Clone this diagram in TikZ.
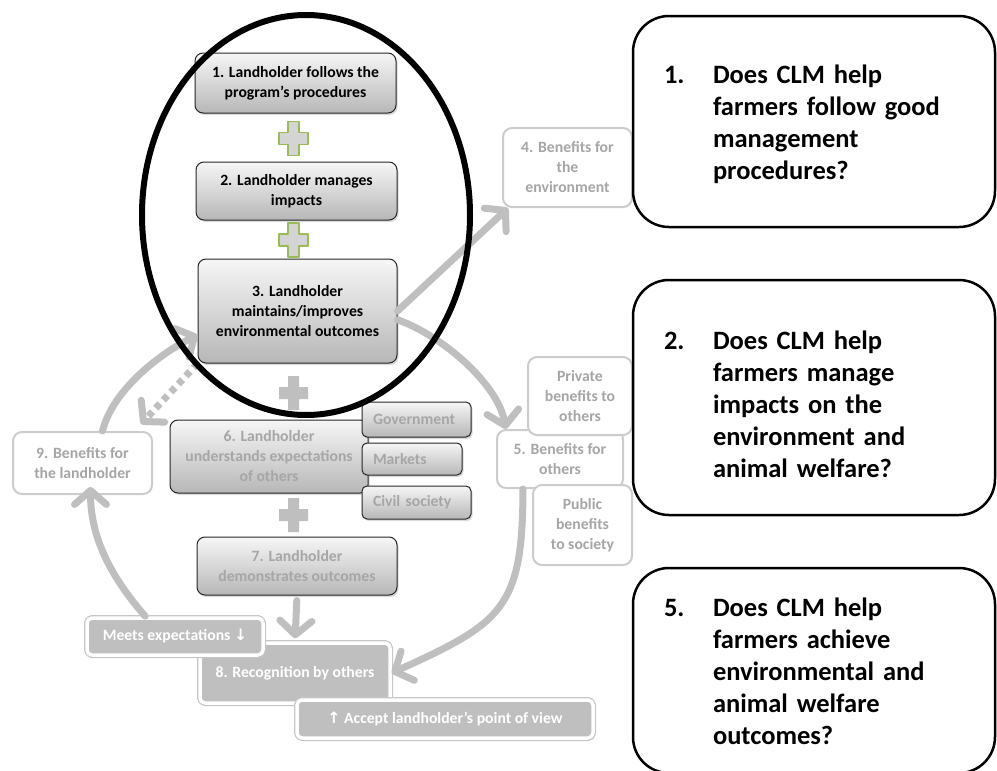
\documentclass[tikz,border=0pt]{standalone}
\usepackage{fontspec}
\setmainfont{Carlito}
\newfontfamily\arrowfont{DejaVu Sans}
\usetikzlibrary{arrows.meta,shadows}

\definecolor{arrowgray}{RGB}{191,191,191}
\definecolor{fadetext}{RGB}{166,166,166}
\definecolor{lightline}{RGB}{204,204,204}
\definecolor{boxtop}{RGB}{246,246,246}
\definecolor{boxbottom}{RGB}{183,183,183}
\definecolor{plusgreen}{RGB}{155,187,89}
\definecolor{plusfill}{RGB}{212,212,212}

\begin{document}
\begin{tikzpicture}[
	x=1pt, y=-1pt,
	line join=round,
	line cap=round,
	font=\fontsize{15.7}{20}\selectfont\bfseries,
	stepbox/.style={draw=black!85, line width=1pt, rounded corners=8pt,
		top color=boxtop, bottom color=boxbottom, align=center, inner sep=0pt,
		drop shadow={shadow xshift=1.5pt, shadow yshift=-2pt, opacity=0.3}},
	fadebox/.style={stepbox, text=fadetext},
	actorbox/.style={fadebox, rounded corners=5pt, align=left},
	benefitbox/.style={draw=lightline, line width=2pt, fill=white, rounded corners=9pt,
		text=fadetext, align=center, inner sep=0pt},
	recogbox/.style={draw=white, line width=3.5pt, fill=arrowgray, rounded corners=5pt,
		text=white, inner sep=0pt,
		preaction={draw=black!22, line width=6pt},
		drop shadow={shadow xshift=1pt, shadow yshift=-2pt, opacity=0.25}},
	questionbox/.style={draw=black, line width=2.5pt, rounded corners=36pt,
		minimum width=362pt, text width=300pt, align=left, inner sep=0pt,
		font=\fontsize{26.5}{32}\selectfont\bfseries},
	flowarrow/.style={draw=arrowgray, line width=7pt,
		-{Straight Barb[round, length=14pt, width=32pt]}},
	greenplus/.style={draw=plusgreen, line width=1.2pt, fill=plusfill},
	grayplus/.style={fill=arrowgray, draw=none}
	]
	
	\useasboundingbox (0,0) rectangle (997,771);
	
	% Các bước
	\node[stepbox, minimum width=201pt, minimum height=60pt] (s1) at (295.5,83)
		{1. Landholder follows the\\program’s procedures};
	\node[stepbox, minimum width=201pt, minimum height=58pt] (s2) at (296.5,191)
		{2. Landholder manages\\impacts};
	\node[stepbox, minimum width=199pt, minimum height=104pt] (s3) at (297.5,311)
		{3. Landholder\\maintains/improves\\environmental outcomes};
	\node[fadebox, minimum width=198pt, minimum height=73pt] (s6) at (269,456.5)
		{6. Landholder\\understands expectations\\of others};
	\node[fadebox, minimum width=200pt, minimum height=58pt] (s7) at (297,566)
		{7. Landholder\\demonstrates outcomes};
	
	% Các bên liên quan
	\foreach \n/\x/\y/\w/\h/\t in {
		gov/416.5/419.5/109/35/Government,
		mkt/412/459/100/32/Markets,
		civ/416.5/502.5/109/33/Civil society
	}{
		\node[actorbox, minimum width=\w pt, minimum height=\h pt, text width=\w pt-22pt]
			(\n) at (\x,\y) {\t};
	}
	
	% Ghi nhận
	\node[recogbox, minimum width=190pt, minimum height=60pt] (s8) at (295,673)
		{8. Recognition by others};
	\node[recogbox, minimum width=176pt, minimum height=37pt] (meets) at (175,636.5)
		{Meets expectations {\arrowfont ↓}};
	\node[recogbox, minimum width=296pt, minimum height=38pt] (accept) at (445,719)
		{{\arrowfont ↑} Accept landholder’s point of view};
	
	% Lợi ích
	\node[benefitbox, minimum width=139pt, minimum height=62pt] (b9) at (82.5,463)
		{9. Benefits for\\the landholder};
	\node[benefitbox, minimum width=129pt, minimum height=79pt] (b4) at (567.5,167.5)
		{4. Benefits for\\the\\environment};
	\node[benefitbox, minimum width=126pt, minimum height=58pt] (b5) at (560,459)
		{5. Benefits for\\others};
	\node[benefitbox, minimum width=104pt, minimum height=78pt] (priv) at (580,396)
		{Private\\benefits to\\others};
	\node[benefitbox, minimum width=99pt, minimum height=80pt] (pub) at (582.5,525)
		{Public\\benefits\\to society};
	
	% Dấu cộng
	\foreach \py/\pstyle in {138.5/greenplus, 240/greenplus, 393/grayplus, 515/grayplus}{
		\draw[\pstyle, shift={(293.5,\py)}] (-5.5,-17) -- (5.5,-17) -- (5.5,-6) -- (14.5,-6)
			-- (14.5,6) -- (5.5,6) -- (5.5,17) -- (-5.5,17) -- (-5.5,6) -- (-14.5,6)
			-- (-14.5,-6) -- (-5.5,-6) -- cycle;
	}
	
	% Mũi tên
	\draw[flowarrow] (s3.-5) .. controls +(45,16) and +(-8,-45) .. (b5.151);
	\draw[flowarrow] (s3.east) -- ([xshift=6pt]b4.south west);
	\draw[flowarrow] (b5.-141) .. controls +(0,120) and +(110,-50) .. (s8.east);
	\draw[flowarrow] ([xshift=60pt]meets.north west) .. controls +(-35,-40) and +(0,50)
		.. ([xshift=8pt,yshift=8pt]b9.south);
	\draw[flowarrow] ([xshift=20pt]b9.north) .. controls +(10,-40) and +(-40,20)
		.. ([yshift=-24pt]s3.west);
	\draw[flowarrow, line cap=butt, dash pattern=on 6pt off 5pt]
		(s3.south west) -- ([xshift=-12pt,yshift=7pt]b9.north east);
	\draw[flowarrow, shorten <=5pt, shorten >=3pt] (s7.south) -- (s8.north);
	
	% Câu hỏi
	\node[questionbox, minimum height=211pt] (q1) at (814,121.5)
		{\raisebox{-4pt}[\height][\depth]{\begin{tabular}{@{}p{49pt}@{}l@{}}
			1. & Does CLM help\\ & farmers follow good\\ & management\\ & procedures?
		\end{tabular}}};
	\node[questionbox, minimum height=235pt] (q2) at (814,397.5)
		{\raisebox{-10pt}[\height][\depth]{\begin{tabular}{@{}p{49pt}@{}l@{}}
			2. & Does CLM help\\ & farmers manage\\ & impacts on the\\ & environment and\\ & animal welfare?
		\end{tabular}}};
	\node[questionbox, minimum height=205pt] (q3) at (814,670.5)
		{\raisebox{-4pt}[\height][\depth]{\begin{tabular}{@{}p{49pt}@{}l@{}}
			5. & Does CLM help\\ & farmers achieve\\ & environmental and\\ & animal welfare\\ & outcomes?
		\end{tabular}}};
	
	% Vòng trọng tâm
	\draw[line width=6pt] (306,215) ellipse [x radius=164, y radius=200];
	
\end{tikzpicture}
\end{document}
